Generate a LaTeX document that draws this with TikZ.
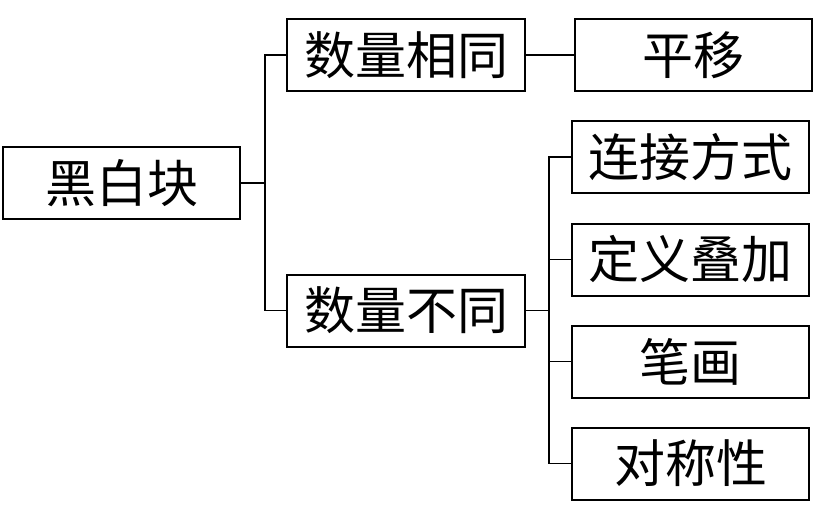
\documentclass[tikz,border=0pt]{standalone}
\usepackage{fontspec}
\newfontfamily\cjk{Noto Sans CJK SC}
\begin{document}
\begin{tikzpicture}[x=1pt,y=-1pt,
  box/.style={draw=black,line width=2pt,minimum width=237pt,minimum height=72pt,inner sep=0pt,
    font=\cjk\fontsize{51}{51}\selectfont},
  link/.style={draw=black,line width=1.6pt}]
\useasboundingbox (0,0) rectangle (830,531);
\node[box] (root) at (121.5,183) {黑白块};
\node[box,minimum width=238pt] (same) at (406,55) {数量相同};
\node[box,minimum width=238pt] (diff) at (406,310.5) {数量不同};
\node[box] (py) at (693.5,55) {平移};
\node[box] (lj) at (690.5,157) {连接方式};
\node[box] (dy) at (690.5,259.5) {定义叠加};
\node[box] (bh) at (690.5,361.5) {笔画};
\node[box] (dc) at (690.5,463.5) {对称性};
\draw[link] (root.east) -- ([xshift=24pt]root.east) coordinate (t1) |- (same.west);
\draw[link] (t1) |- (diff.west);
\draw[link] (same.east) -- (py.west);
\draw[link] (diff.east) -- ([xshift=23pt]diff.east) coordinate (t2) |- (lj.west);
\draw[link] (t2) |- (dy.west);
\draw[link] (t2) |- (bh.west);
\draw[link] (t2) |- (dc.west);
\end{tikzpicture}
\end{document}
